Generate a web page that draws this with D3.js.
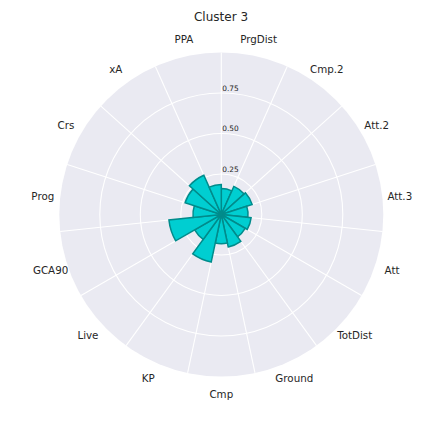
<!DOCTYPE html>
<html>
<head>
<meta charset="utf-8">
<script src="https://cdn.jsdelivr.net/npm/d3@7"></script>
<style>
  html, body { margin: 0; padding: 0; background: #fff; }
  svg { display: block; }
</style>
</head>
<body>
<svg id="chart" width="432" height="432"></svg>
<script>
const categories = ["PrgDist", "Cmp.2", "Att.2", "Att.3", "Att", "TotDist", "Ground", "Cmp",
                    "KP", "Live", "GCA90", "Prog", "Crs", "xA", "PPA"];
const values = [0.16, 0.19, 0.20, 0.165, 0.185, 0.17, 0.205, 0.18,
                0.30, 0.19, 0.325, 0.175, 0.235, 0.265, 0.185];
const radialTicks = [0.25, 0.50, 0.75];
const title = "Cluster 3";

const cx = 221.3, cy = 214.5, R = 162;
const textColor = "#262626";
const font = "'DejaVu Sans', sans-serif";

const svg = d3.select("#chart");
const g = svg.append("g").attr("transform", `translate(${cx},${cy})`);

const r = d3.scaleLinear().domain([0, 1]).range([0, R]);
const step = 2 * Math.PI / categories.length;
const angle = d3.scaleLinear().domain([0, categories.length]).range([0, 2 * Math.PI]);

// category labels (drawn first, below the polar patch)
g.selectAll("text.cat").data(categories).join("text")
  .attr("class", "cat")
  .attr("x", (d, i) => Math.sin(angle(i + 0.5)) * 179.5)
  .attr("y", (d, i) => -Math.cos(angle(i + 0.5)) * 179.5)
  .attr("text-anchor", "middle")
  .attr("dominant-baseline", "central")
  .attr("font-family", font)
  .attr("font-size", 10.3)
  .attr("fill", textColor)
  .text(d => d);

// background
g.append("circle").attr("r", R).attr("fill", "#EAEAF2");

// ring gridlines
g.selectAll("circle.ring").data(radialTicks).join("circle")
  .attr("class", "ring")
  .attr("r", d => r(d))
  .attr("fill", "none")
  .attr("stroke", "#fff")
  .attr("stroke-width", 1.1);

// spoke gridlines
g.selectAll("line.spoke").data(d3.range(categories.length)).join("line")
  .attr("class", "spoke")
  .attr("x1", 0).attr("y1", 0)
  .attr("x2", i => Math.sin(angle(i)) * R)
  .attr("y2", i => -Math.cos(angle(i)) * R)
  .attr("stroke", "#fff")
  .attr("stroke-width", 1.1);

// bars
const arc = d3.arc()
  .innerRadius(0)
  .outerRadius(d => r(d.v))
  .startAngle(d => angle(d.i))
  .endAngle(d => angle(d.i + 1));

g.selectAll("path.bar").data(values.map((v, i) => ({ v, i }))).join("path")
  .attr("class", "bar")
  .attr("d", arc)
  .attr("fill", "#00CED1")
  .attr("stroke", "#008B8B")
  .attr("stroke-width", 1.5)
  .attr("stroke-linejoin", "miter");

// radial tick labels
g.selectAll("text.rtick").data(radialTicks).join("text")
  .attr("class", "rtick")
  .attr("x", 1)
  .attr("y", d => -r(d) - 2.5)
  .attr("font-family", font)
  .attr("font-size", 7.4)
  .attr("fill", textColor)
  .text(d => d.toFixed(2));

// title
svg.append("text")
  .attr("x", 221)
  .attr("y", 21)
  .attr("text-anchor", "middle")
  .attr("font-family", font)
  .attr("font-size", 12)
  .attr("fill", textColor)
  .text(title);
</script>
</body>
</html>
